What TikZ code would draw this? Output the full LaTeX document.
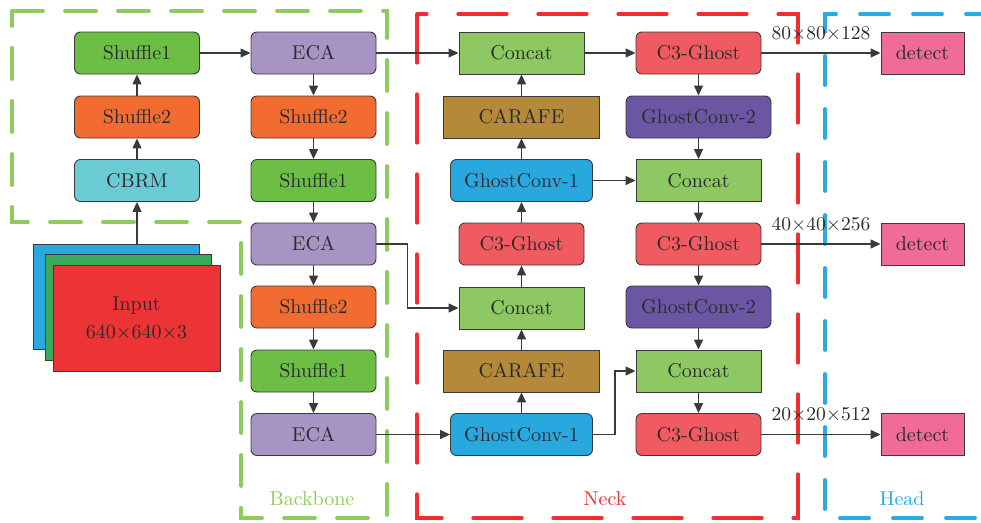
\documentclass[tikz,border=0pt]{standalone}
\usetikzlibrary{arrows.meta}
% 10pt design size of Latin Modern, set large, for a heavier stroke
\font\lmbig="[lmroman10-regular]:+tlig;" at 20pt
\font\lmdim="[lmroman10-regular]:+tlig;" at 19.5pt
\definecolor{edge}{HTML}{3A3A3A}
\definecolor{txt}{HTML}{2A2A2A}
\definecolor{cShufOne}{HTML}{6DBE45}
\definecolor{cShufTwo}{HTML}{F26C32}
\definecolor{cCbrm}{HTML}{6BCBD5}
\definecolor{cEca}{HTML}{A893C5}
\definecolor{cConcat}{HTML}{8DC863}
\definecolor{cCarafe}{HTML}{B5893A}
\definecolor{cGhostOne}{HTML}{29A8DF}
\definecolor{cGhostTwo}{HTML}{6A56A3}
\definecolor{cCthree}{HTML}{F05A61}
\definecolor{cDetect}{HTML}{F06B97}
\definecolor{cInR}{HTML}{EC3336}
\definecolor{cInG}{HTML}{3AAA5C}
\definecolor{cInB}{HTML}{28A8DF}
\definecolor{regGreen}{HTML}{8DCB5E}
\definecolor{regRed}{HTML}{EE2E30}
\definecolor{regBlue}{HTML}{29ABE2}
\begin{document}
\begin{tikzpicture}[x=1pt,y=-1pt,
  box/.style={draw=edge, line width=0.9pt, minimum height=42pt, minimum width=125pt,
    text=txt, font=\lmbig, inner sep=0pt},
  rbox/.style={box, rounded corners=6pt},
  link/.style={draw=edge, line width=1.4pt, -{Triangle[length=10pt,width=9pt]}},
  region/.style={line width=3.8pt, line cap=round},
  reglabel/.style={font=\lmbig},
  dimlabel/.style={text=txt, font=\lmdim, anchor=base, inner sep=0pt},
]
\useasboundingbox (0,0) rectangle (981,522);

% dashed stage regions
\draw[region, regGreen, dash pattern=on 31pt off 22pt]
  (12,11) -- (387,11) -- (387,518) -- (241,518) -- (241,222) -- (12,222) -- cycle;
\draw[region, regRed, line width=3.2pt, dash pattern=on 49pt off 31pt]
  (417,14) rectangle (798,518);
\draw[region, regBlue, dash pattern=on 29pt off 24pt]
  (995,14) -- (825,14) -- (825,518) -- (995,518);
\node[reglabel, text=regGreen] at (312,499) {Backbone};
\node[reglabel, text=regRed] at (605,499) {Neck};
\node[reglabel, text=regBlue] at (902,499) {Head};

% input feature stack
\node[box, fill=cInB, minimum width=166pt, minimum height=105pt] (inB) at (116,296.5) {};
\node[box, fill=cInG, minimum width=166pt, minimum height=106pt] (inG) at (128,307) {};
\node[box, fill=cInR, minimum width=167pt, minimum height=106pt, align=center]
  (inR) at (136.5,318) {Input\\[9pt]640×640×3};

% stem
\node[rbox, fill=cShufOne] (shA) at (137,53) {Shuffle1};
\node[rbox, fill=cShufTwo] (shB) at (137,117) {Shuffle2};
\node[rbox, fill=cCbrm] (cbrm) at (137,180.5) {CBRM};

% backbone column
\node[rbox, fill=cEca] (ecaA) at (313.5,53) {ECA};
\node[rbox, fill=cShufTwo] (shC) at (313.5,117) {Shuffle2};
\node[rbox, fill=cShufOne] (shD) at (313.5,180.5) {Shuffle1};
\node[rbox, fill=cEca] (ecaB) at (313.5,244) {ECA};
\node[rbox, fill=cShufTwo] (shE) at (313.5,307) {Shuffle2};
\node[rbox, fill=cShufOne] (shF) at (313.5,371) {Shuffle1};
\node[rbox, fill=cEca] (ecaC) at (313.5,434.5) {ECA};

% neck, upward path
\node[box, fill=cConcat] (catA) at (521.5,53) {Concat};
\node[box, fill=cCarafe, minimum width=156pt] (carA) at (521.5,117) {CARAFE};
\node[rbox, fill=cGhostOne, minimum width=142pt] (gcA) at (521.5,180.5) {GhostConv-1};
\node[rbox, fill=cCthree] (c3A) at (521.5,244) {C3-Ghost};
\node[box, fill=cConcat] (catB) at (521.5,308) {Concat};
\node[box, fill=cCarafe, minimum width=156pt] (carB) at (521.5,371) {CARAFE};
\node[rbox, fill=cGhostOne, minimum width=142pt] (gcB) at (521.5,434.5) {GhostConv-1};

% neck, downward path
\node[rbox, fill=cCthree] (c3B) at (698.5,53) {C3-Ghost};
\node[rbox, fill=cGhostTwo, minimum width=145pt] (gtA) at (698.5,117) {GhostConv-2};
\node[box, fill=cConcat] (catC) at (698.5,180.5) {Concat};
\node[rbox, fill=cCthree] (c3C) at (698.5,244) {C3-Ghost};
\node[rbox, fill=cGhostTwo, minimum width=145pt] (gtB) at (698.5,307) {GhostConv-2};
\node[box, fill=cConcat] (catD) at (698.5,371) {Concat};
\node[rbox, fill=cCthree] (c3D) at (698.5,434.5) {C3-Ghost};

% heads
\node[box, fill=cDetect, minimum width=83pt] (detA) at (922.5,53) {detect};
\node[box, fill=cDetect, minimum width=83pt] (detB) at (922.5,244) {detect};
\node[box, fill=cDetect, minimum width=83pt] (detC) at (922.5,434.5) {detect};

% stem links
\draw[link] (inB.north -| cbrm) -- (cbrm);
\draw[link] (cbrm) -- (shB);
\draw[link] (shB) -- (shA);
\draw[link] (shA) -- (ecaA);

% backbone links
\draw[link] (ecaA) -- (shC);
\draw[link] (shC) -- (shD);
\draw[link] (shD) -- (ecaB);
\draw[link] (ecaB) -- (shE);
\draw[link] (shE) -- (shF);
\draw[link] (shF) -- (ecaC);

% backbone to neck
\draw[link] (ecaA) -- (catA);
\draw[link] (ecaB.east) -- ++(31,0) |- (catB.west);
\draw[link] (ecaC) -- (gcB);

% neck upward
\draw[link] (gcB) -- (carB);
\draw[link] (carB) -- (catB);
\draw[link] (catB) -- (c3A);
\draw[link] (c3A) -- (gcA);
\draw[link] (gcA) -- (carA);
\draw[link] (carA) -- (catA);

% neck downward
\draw[link] (catA) -- (c3B);
\draw[link] (c3B) -- (gtA);
\draw[link] (gtA) -- (catC);
\draw[link] (gcA) -- (catC);
\draw[link] (catC) -- (c3C);
\draw[link] (c3C) -- (gtB);
\draw[link] (gtB) -- (catD);
\draw[link] (gcB.east) -- ++(22,0) |- (catD.west);
\draw[link] (catD) -- (c3D);

% outputs
\draw[link] (c3B) -- (detA) node[dimlabel, midway, yshift=14pt] {80×80×128};
\draw[link] (c3C) -- (detB) node[dimlabel, midway, yshift=14pt] {40×40×256};
\draw[link] (c3D) -- (detC) node[dimlabel, midway, yshift=14pt] {20×20×512};
\end{tikzpicture}
\end{document}
